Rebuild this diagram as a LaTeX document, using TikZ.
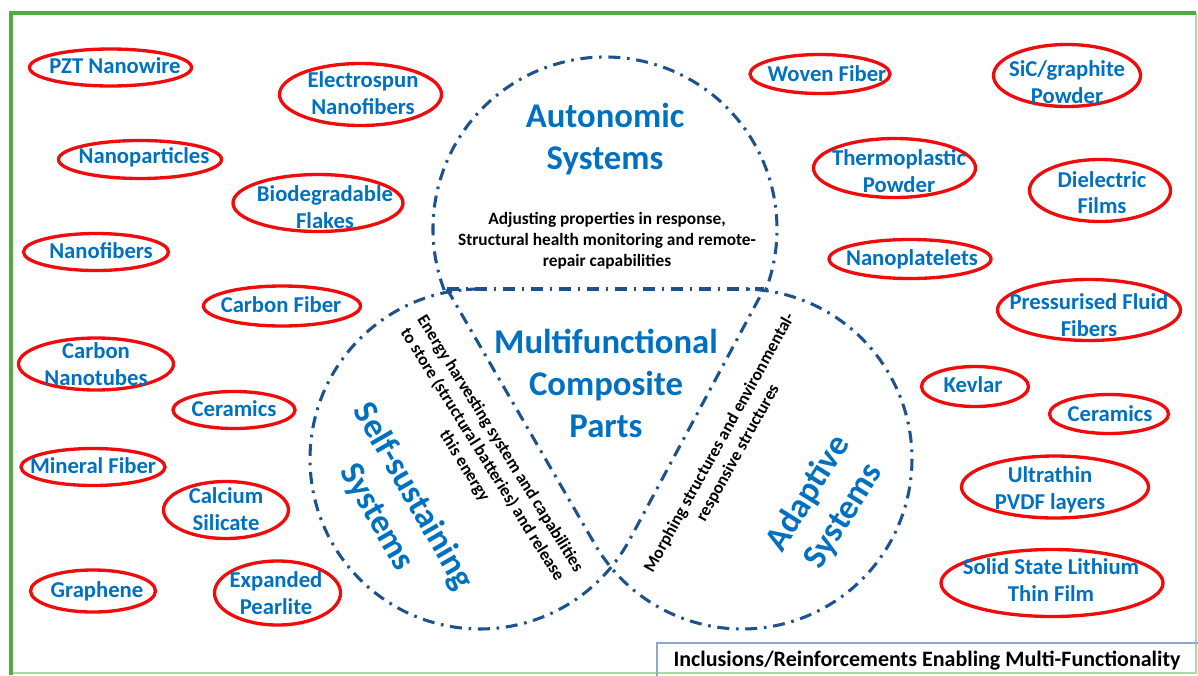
\documentclass[tikz,border=0pt]{standalone}
\usepackage{fontspec}
\setmainfont{Carlito}
\usetikzlibrary{shapes.geometric}

\definecolor{ablue}{RGB}{0,112,192}
\definecolor{dblue}{RGB}{30,82,140}
\definecolor{ered}{RGB}{240,12,12}
\definecolor{fgreen}{RGB}{80,172,62}
\definecolor{lgreen}{RGB}{170,220,160}
\definecolor{boxblue}{RGB}{140,168,205}

\tikzset{
  ell/.style={draw=ered, line width=2.5pt, ellipse, inner sep=0pt},
  etxt/.style={text=ablue, font=\fontsize{17}{20}\selectfont\bfseries, align=center, inner sep=0pt},
  ttl/.style={text=ablue, font=\fontsize{26}{31.5}\selectfont\bfseries, align=center, inner sep=0pt},
  desc/.style={text=black, font=\fontsize{13}{15.75}\selectfont\bfseries, align=center, inner sep=0pt},
  dd/.style={draw=dblue, line width=2.3pt, dash pattern=on 9pt off 5pt on 2pt off 5pt},
}

% material ellipse: name, x, y, width, height, text x, text y, text
\newcommand\matnode[8]{%
  \node[ell, minimum width={#4*0.75pt}, minimum height={#5*0.75pt}] (#1) at (#2,#3) {};
  \node[etxt] (#1-t) at (#6,#7) {#8};
}

\begin{document}
\begin{tikzpicture}[x=0.75pt,y=-0.75pt]
\useasboundingbox (0,0) rectangle (1198,675);

% frame
\draw[lgreen, line width=1.5pt] (1196,13) -- (1196,673) -- (11,673);
\draw[fgreen, line width=3pt] (11,675) -- (11,13) -- (1196,13);

% corner points of the two lower teardrops
\coordinate (A) at (447,289);
\coordinate (B) at (764,289);

% upper circle (autonomic)
\draw[dd] (605,229) ++(159.2:172) arc[start angle=159.2, end angle=380.8, radius=172];
% shared top edge
\draw[dd] (A) -- (B);
% lower left teardrop (self-sustaining)
\draw[dd] (480,289) arc[start angle=-90, end angle=-331.8, radius=170] -- (B);
% lower right teardrop (adaptive)
\draw[dd] (A) -- (594.8,544.1) arc[start angle=149.95, end angle=-90, radius=170];

% circle titles
\node[ttl] (auto) at (605,139) {Autonomic\\Systems};
\node[ttl] (multi) at (606,383) {Multifunctional\\Composite\\Parts};
\node[ttl, rotate=-60] (self) at (395,507) {Self-sustaining\\Systems};
\node[ttl, rotate=58] (adapt) at (826,505) {Adaptive\\Systems};

% descriptions
\node[desc] (autod) at (607,241) {Adjusting properties in response,\\Structural health monitoring and remote-\\repair capabilities};
\node[desc, rotate=-58] (selfd) at (482,455) {Energy harvesting system and capabilities\\to store (structural batteries) and release\\this energy};
\node[desc, rotate=61] (adaptd) at (729,448) {Morphing structures and environmental-\\responsive structures};

% left column of materials
\matnode{pzt}{110.5}{67.5}{162}{37}{115}{66}{PZT Nanowire}
\matnode{elec}{360.5}{94.5}{162}{62}{363}{93}{Electrospun\\Nanofibers}
\matnode{npart}{140}{159.5}{163}{38}{144}{157}{Nanoparticles}
\matnode{bio}{318}{203}{170}{57}{325}{207}{Biodegradable\\Flakes}
\matnode{nfib}{96}{252}{145}{37}{101}{251}{Nanofibers}
\matnode{cfib}{282}{306}{157}{40}{281}{305}{Carbon Fiber}
\matnode{cnt}{96}{364}{155}{52}{96}{364}{Carbon\\Nanotubes}
\matnode{ceral}{234}{410}{122}{37}{234}{409}{Ceramics}
\matnode{mfib}{93}{467}{144}{37}{93}{466}{Mineral Fiber}
\matnode{csil}{226}{510}{125}{57}{226}{509}{Calcium\\Silicate}
\matnode{graph}{93}{591}{125}{42}{97}{591}{Graphene}
\matnode{pearl}{277.5}{593}{126}{64}{276}{593}{Expanded\\Pearlite}

% right column of materials
\matnode{woven}{820}{74}{140}{39}{827}{74}{Woven Fiber}
\matnode{sic}{1067}{75.5}{147}{62}{1067}{82}{SiC/graphite\\Powder}
\matnode{thermo}{894.5}{168}{162}{59}{899}{171}{Thermoplastic\\Powder}
\matnode{diel}{1100}{190.5}{141}{62}{1102}{192.5}{Dielectric\\Films}
\matnode{nplat}{910}{259}{162}{39}{912}{259}{Nanoplatelets}
\matnode{pff}{1089}{310}{183}{61}{1089}{315}{Pressurised Fluid\\Fibers}
\matnode{kev}{975}{386.5}{107}{40}{973}{385}{Kevlar}
\matnode{cerar}{1109}{414}{119}{39}{1110}{414}{Ceramics}
\matnode{pvdf}{1055}{487}{187}{62}{1050}{490}{Ultrathin\\PVDF layers}
\matnode{lith}{1052}{583}{222}{67}{1051}{580}{Solid State Lithium\\Thin Film}

% legend box
\draw[boxblue, line width=1pt] (657,690) -- (657,643) -- (1210,643);
\node[font=\fontsize{16.5}{20}\selectfont\bfseries, inner sep=0pt] (legend) at (927,661) {Inclusions/Reinforcements Enabling Multi-Functionality};
\end{tikzpicture}
\end{document}
